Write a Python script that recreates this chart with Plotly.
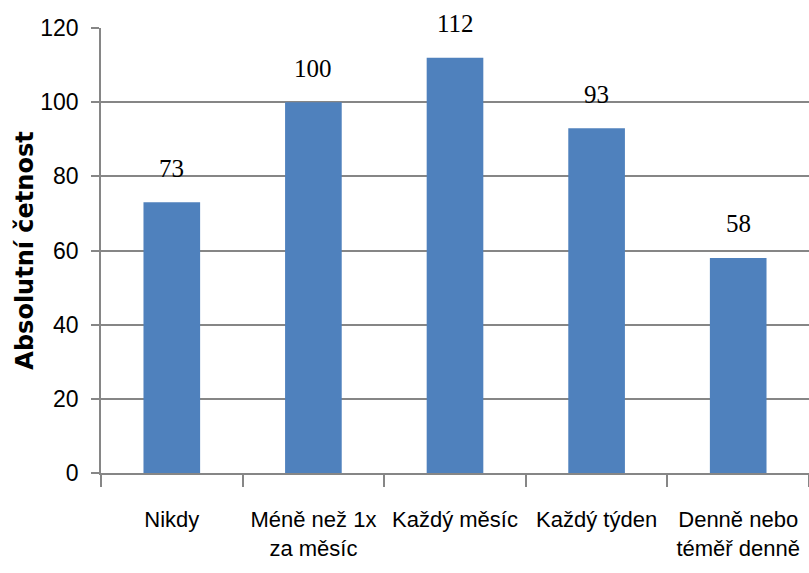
import plotly.graph_objects as go

categories = ["Nikdy", "Méně než 1x<br>za měsíc", "Každý měsíc", "Každý týden", "Denně nebo<br>téměř denně"]
values = [73, 100, 112, 93, 58]
y_ticks = [0, 20, 40, 60, 80, 100, 120]

fig = go.Figure()
fig.add_trace(go.Bar(
    x=categories, y=values,
    marker=dict(color="#4F81BD", line=dict(width=0)),
    width=0.4,
    hoverinfo="skip",
))

for c, v in zip(categories, values):
    fig.add_annotation(
        x=c, y=v, text=str(v), showarrow=False,
        yshift=34, font=dict(family="Liberation Serif", size=25, color="black"),
    )

fig.update_layout(
    width=809, height=573,
    margin=dict(l=101, r=0, t=28, b=100),
    paper_bgcolor="white", plot_bgcolor="white",
    showlegend=False,
    font=dict(family="Liberation Sans", size=22, color="black"),
)
fig.update_xaxes(
    type="category", range=[-0.5, 4.5], automargin=False, tickangle=0,
    tickson="boundaries", ticks="outside", ticklen=12, tickwidth=1.5, tickcolor="#868686",
    ticklabelstandoff=26,
    showline=True, linecolor="#868686", linewidth=1.5,
    showgrid=False,
    tickfont=dict(family="Liberation Sans", size=22, color="black"),
)
fig.update_yaxes(
    range=[0, 120], tickvals=y_ticks, automargin=False,
    ticks="outside", ticklen=8, tickwidth=1.5, tickcolor="#868686",
    ticklabelstandoff=8,
    showline=True, linecolor="#868686", linewidth=1.5,
    showgrid=True, gridcolor="#868686", gridwidth=1.5,
    zeroline=False,
    tickfont=dict(family="Liberation Sans", size=23, color="black"),
    title=dict(text="<b>Absolutní četnost</b>", standoff=0,
               font=dict(family="DejaVu Sans", size=24, color="black")),
)

fig.write_html("out.html")
